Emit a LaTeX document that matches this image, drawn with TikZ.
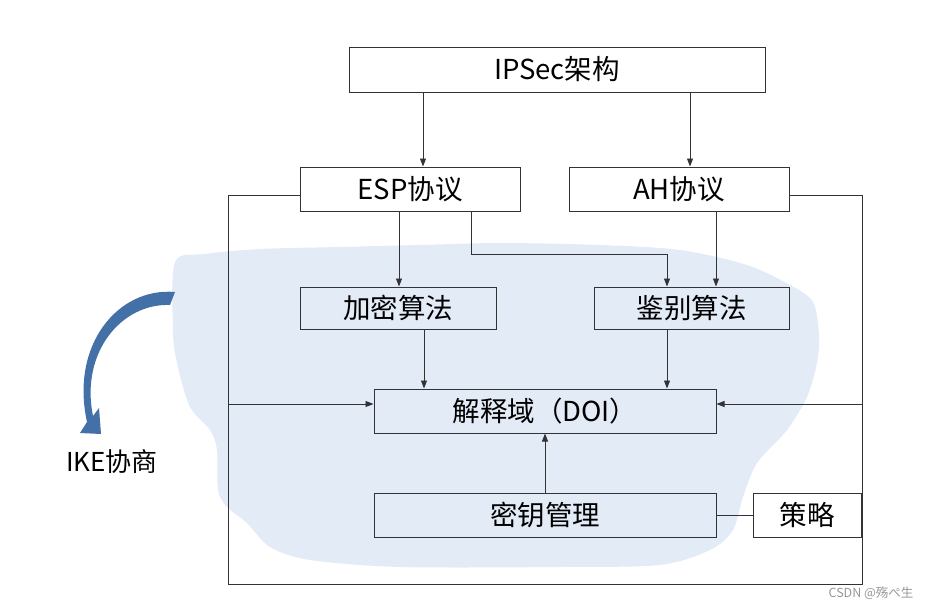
\documentclass[tikz,border=0pt]{standalone}
\usepackage{fontspec}
\newfontfamily\cjk{Noto Sans CJK SC}
\usepackage{tikz}
\usetikzlibrary{arrows.meta, positioning}
\usepackage{xcolor}
\definecolor{cloudblue}{RGB}{227,235,247}
\definecolor{curveblue}{RGB}{68,112,168}
\definecolor{linegray}{RGB}{50,50,55}
\definecolor{markgray}{RGB}{150,150,150}

\begin{document}
\begin{tikzpicture}[x=1pt, y=-1pt,
			box/.style={draw=linegray, line width=1pt, inner sep=0pt, font=\cjk\fontsize{27.5}{32}\selectfont},
			arrowstyle/.style={-{Triangle[length=8pt, width=6pt]}, line width=0.9pt, linegray},
			wire/.style={line width=0.9pt, linegray}
		]
		\useasboundingbox (0,0) rectangle (932,608);
		% shaded area behind the lower part
		\fill[cloudblue] plot[smooth cycle, tension=0.5] coordinates {(175,262) (205,254) (260,249) (340,247) (420,245) (500,243) (600,245) (680,250) (747,265) (790,285) (813,302) (819,335) (817,363) (807,397) (787,430) (757,463) (743,497) (733,530) (710,550) (660,565) (560,567) (400,567) (310,560) (270,547) (247,523) (227,507) (218,490) (217,450) (210,430) (190,407) (177,363) (173,330)};
		% curved arrow to IKE
		\fill[curveblue] (175,292) .. controls (118,287) and (70,345) .. (87,422) -- (80,433) -- (101,434) -- (99,408) -- (93,416) .. controls (80,352) and (122,303) .. (170,305) -- cycle;
		\node[font=\cjk\fontsize{26}{30}\selectfont] (ike) at (112,462) {IKE协商};

		\node[box, minimum width=416pt, minimum height=45pt] (ipsec) at (557,69.5) {IPSec架构};
		\node[box, minimum width=220pt, minimum height=44pt] (esp) at (410,189) {ESP协议};
		\node[box, minimum width=220pt, minimum height=44pt] (ah) at (679,189) {AH协议};
		\node[box, minimum width=196pt, minimum height=42pt] (enc) at (398,308) {加密算法};
		\node[box, minimum width=195pt, minimum height=42pt] (auth) at (691.5,308) {鉴别算法};
		\node[box, minimum width=342pt, minimum height=44pt] (doi) at (545,411) {解释域（DOI）};
		\node[box, minimum width=342pt, minimum height=44pt] (keymgmt) at (545,515) {密钥管理};
		\node[box, minimum width=108pt, minimum height=44pt] (policy) at (807,515) {策略};

		\draw[arrowstyle] (ipsec.south -| 423,0) -- (esp.north -| 423,0);
		\draw[arrowstyle] (ipsec.south -| 690,0) -- (ah.north -| 690,0);
		\draw[arrowstyle] (esp.south -| 399,0) -- (enc.north -| 399,0);
		\draw[arrowstyle] (esp.south -| 471,0) |- (667,254) -- (auth.north -| 667,0);
		\draw[arrowstyle] (ah.south -| 716,0) -- (auth.north -| 716,0);
		\draw[arrowstyle] (enc.south -| 424,0) -- (doi.north -| 424,0);
		\draw[arrowstyle] (auth.south -| 667,0) -- (doi.north -| 667,0);
		\draw[arrowstyle] (keymgmt.north) -- (doi.south);

		% feedback loop round the whole block
		\coordinate (lt) at (228,195);
		\coordinate (lb) at (228,584);
		\coordinate (rb) at (862,584);
		\coordinate (rt) at (862,195);
		\coordinate (lm) at (228,404);
		\coordinate (rm) at (862,404);
		\draw[wire] (esp.west |- lt) -- (lt) -- (lb) -- (rb) -- (rt) -- (ah.east |- rt);
		\draw[arrowstyle] (lm) -- (lm -| doi.west);
		\draw[arrowstyle] (rm) -- (rm -| doi.east);
		\draw[wire] (keymgmt.east) -- (policy.west);

		\node[font=\cjk\fontsize{12.5}{15}\selectfont, text=markgray, anchor=east] (mark) at (917,593) {CSDN @殇ぺ生};
	\end{tikzpicture}
\end{document}
